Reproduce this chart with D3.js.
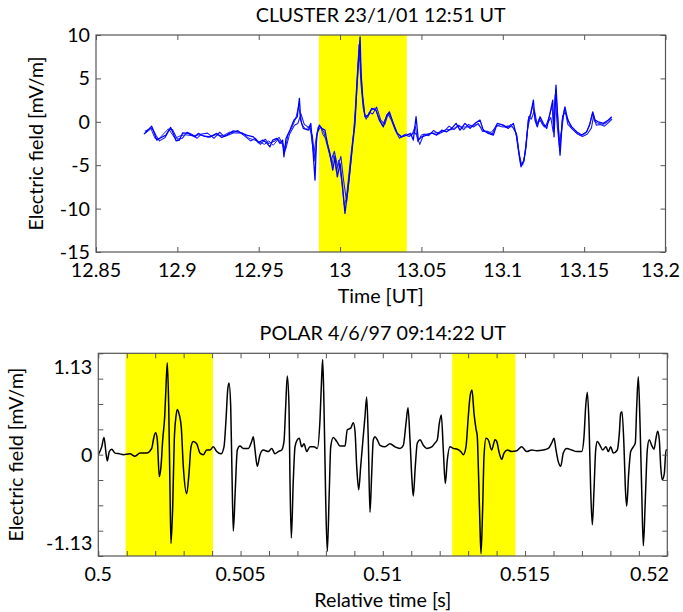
<!DOCTYPE html>
<html>
<head>
<meta charset="utf-8">
<script src="https://cdn.jsdelivr.net/npm/d3@7"></script>
<style>
  html, body { margin: 0; padding: 0; background: #fff; }
  svg { display: block; }
  text { font-family: Lato, "Open Sans", sans-serif; fill: #000; }
</style>
</head>
<body>
<svg id="chart" width="683" height="612"></svg>
<script>
// ---------- CLUSTER panel: electric field traces (mV/m) vs time (UT hours) ----------
const clusterTimeA = [12.8795,12.8842,12.8873,12.8898,12.8930,12.8959,12.8975,12.8992,12.9012,12.9033,12.9067,12.9108,12.9129,12.9159,12.9201,12.9242,12.9273,12.9303,12.9344,12.9385,12.9426,12.9467,12.9498,12.9525,12.9549,12.9569,12.9586,12.9611,12.9631,12.9647,12.9655,12.9668,12.9692,12.9717,12.9737,12.9750,12.9758,12.9774,12.9805,12.9820,12.9832,12.9846,12.9856,12.9872,12.9887,12.9907,12.9922,12.9938,12.9955,12.9969,12.9983,13.0000,13.0016,13.0030,13.0045,13.0061,13.0078,13.0092,13.0102,13.0112,13.0123,13.0129,13.0139,13.0153,13.0174,13.0194,13.0221,13.0241,13.0266,13.0287,13.0303,13.0327,13.0352,13.0379,13.0410,13.0434,13.0450,13.0467,13.0481,13.0502,13.0532,13.0563,13.0594,13.0625,13.0655,13.0686,13.0713,13.0737,13.0768,13.0799,13.0829,13.0860,13.0880,13.0911,13.0942,13.0966,13.1003,13.1034,13.1065,13.1086,13.1102,13.1112,13.1130,13.1143,13.1157,13.1172,13.1188,13.1198,13.1212,13.1229,13.1249,13.1270,13.1290,13.1307,13.1315,13.1327,13.1338,13.1352,13.1366,13.1382,13.1399,13.1424,13.1454,13.1485,13.1516,13.1536,13.1553,13.1567,13.1587,13.1618,13.1649,13.1670];
const clusterFieldA = [-1.42,-0.50,-2.11,-1.84,-1.53,-0.65,-1.34,-2.19,-2.11,-1.27,-1.34,-1.73,-1.34,-1.61,-1.73,-1.34,-1.80,-1.53,-1.04,-1.22,-1.53,-1.73,-2.42,-2.11,-2.42,-2.88,-2.11,-1.91,-2.49,-2.11,-4.03,-1.91,-0.95,0.20,0.58,2.70,0.20,-0.76,-0.96,-0.18,-2.88,-6.72,-1.73,-0.38,-0.76,-0.96,-2.49,-3.64,-5.56,-4.03,-6.34,-4.79,-7.49,-10.55,-8.25,-5.56,-2.49,-0.18,3.65,6.73,9.79,5.58,2.88,0.58,0.77,1.54,1.35,0.20,-0.58,0.77,1.15,-0.18,-1.34,-1.73,-1.53,-1.34,-2.11,0.58,-2.11,-1.73,-1.53,-1.27,-1.53,-0.96,-1.15,-0.76,-0.18,-0.96,-0.18,-0.76,-0.18,0.20,-0.96,-1.34,-1.53,-0.18,-0.38,-0.76,-0.18,-1.73,-4.03,-5.18,-4.41,-2.88,0.20,0.97,2.50,0.20,-0.58,0.58,-0.18,-0.76,0.97,2.50,-1.73,4.23,0.20,-3.84,0.20,1.73,0.20,-0.58,-1.15,-1.53,-1.15,-0.18,1.15,0.20,0.00,-0.18,0.20,0.58];

const clusterTimeB = [12.8800,12.8845,12.8870,12.8890,12.8925,12.8950,12.8970,12.9000,12.9030,12.9060,12.9095,12.9120,12.9150,12.9185,12.9225,12.9260,12.9290,12.9330,12.9370,12.9410,12.9450,12.9480,12.9510,12.9540,12.9560,12.9600,12.9625,12.9650,12.9665,12.9690,12.9720,12.9740,12.9760,12.9780,12.9810,12.9830,12.9845,12.9860,12.9880,12.9900,12.9925,12.9945,12.9965,12.9985,13.0005,13.0020,13.0040,13.0055,13.0070,13.0085,13.0098,13.0108,13.0118,13.0128,13.0142,13.0160,13.0180,13.0200,13.0225,13.0250,13.0275,13.0295,13.0315,13.0340,13.0365,13.0395,13.0425,13.0455,13.0470,13.0490,13.0515,13.0545,13.0575,13.0605,13.0640,13.0670,13.0700,13.0730,13.0760,13.0790,13.0820,13.0850,13.0875,13.0905,13.0935,13.0960,13.1000,13.1030,13.1060,13.1085,13.1100,13.1115,13.1130,13.1145,13.1160,13.1175,13.1195,13.1210,13.1230,13.1255,13.1275,13.1295,13.1310,13.1322,13.1335,13.1350,13.1368,13.1385,13.1400,13.1430,13.1460,13.1490,13.1520,13.1545,13.1558,13.1575,13.1600,13.1625,13.1650,13.1672];
const clusterFieldB = [-1.1,-0.7,-1.6,-2.2,-1.8,-0.9,-0.9,-2.0,-1.9,-1.2,-1.5,-1.9,-1.4,-1.3,-1.9,-1.2,-1.7,-1.4,-1.0,-1.6,-2.2,-1.9,-2.6,-2.0,-2.5,-2.2,-1.8,-2.6,-3.2,-1.4,-0.4,-0.2,0.9,-0.3,-0.7,-1.6,-4.5,-1.2,-0.6,-1.2,-3.0,-4.4,-3.4,-5.2,-4.0,-6.5,-9.2,-6.8,-3.8,-1.0,2.0,5.2,8.3,4.5,1.6,0.3,1.1,0.9,1.7,0.2,-0.3,0.9,0.2,-1.0,-1.9,-1.5,-1.7,-1.2,-1.5,-2.6,-1.4,-1.6,-1.0,-1.4,-1.1,-0.5,-0.9,-0.4,-0.9,-0.3,-0.6,-0.2,-1.1,-1.1,-1.4,-0.4,-0.6,-0.5,-0.6,-1.4,-3.6,-4.9,-4.6,-2.1,0.6,0.3,1.3,-0.2,0.2,-0.6,-0.2,0.5,-1.2,3.1,-0.5,-3.3,0.7,1.1,-0.3,-0.9,-1.4,-1.7,-1.4,-0.7,0.7,-0.4,-0.3,-0.5,-0.1,0.3];

// third spacecraft trace, as [time, field] pairs
const clusterTraceC = [
  [12.8805,-1.3],[12.8838,-0.8],[12.8862,-1.9],[12.8885,-2.0],[12.8915,-1.4],[12.8945,-0.8],[12.8985,-1.9],[12.9020,-1.6],
  [12.9050,-1.5],[12.9090,-1.6],[12.9140,-1.5],[12.9190,-1.8],[12.9235,-1.5],[12.9280,-1.6],[12.9320,-1.2],[12.9360,-1.3],
  [12.9400,-1.3],[12.9440,-1.9],[12.9475,-2.1],[12.9505,-2.3],[12.9535,-2.6],[12.9562,-2.2],[12.9590,-2.7],[12.9620,-2.0],
  [12.9645,-2.6],[12.9660,-3.5],[12.9680,-1.5],[12.9705,-0.6],[12.9728,0.4],[12.9745,1.8],[12.9765,-0.3],[12.9790,-0.9],
  [12.9815,-0.4],[12.9838,-3.8],[12.9852,-2.0],[12.9865,-0.6],[12.9880,-0.5],[12.9895,-1.5],[12.9915,-2.0],[12.9930,-3.2],
  [12.9950,-5.0],[12.9962,-3.8],[12.9978,-5.8],[12.9992,-4.4],[13.0010,-6.9],[13.0025,-9.6],[13.0038,-8.9],[13.0052,-6.4],
  [13.0068,-3.6],[13.0085,-0.9],[13.0097,2.6],[13.0107,5.9],[13.0117,8.9],[13.0126,6.8],[13.0135,3.5],[13.0150,0.9],
  [13.0170,0.5],[13.0190,1.3],[13.0215,1.6],[13.0235,0.6],[13.0260,-0.4],[13.0282,0.5],[13.0300,1.0],[13.0322,0.1],
  [13.0347,-1.2],[13.0375,-1.8],[13.0405,-1.4],[13.0440,-1.6],[13.0462,-0.5],[13.0478,-2.3],[13.0500,-1.5],[13.0540,-1.4],
  [13.0580,-1.3],[13.0615,-1.2],[13.0650,-0.9],[13.0690,-0.9],[13.0720,-0.5],[13.0750,-0.6],[13.0785,-0.6],[13.0815,-0.4],
  [13.0845,-0.3],[13.0870,-0.7],[13.0900,-1.2],[13.0930,-1.2],[13.0955,-0.6],[13.0990,-0.3],[13.1020,-0.7],[13.1050,-0.3],
  [13.1080,-1.2],[13.1095,-3.2],[13.1108,-4.6],[13.1122,-5.0],[13.1138,-3.5],[13.1152,-0.9],[13.1168,0.5],[13.1183,1.8],
  [13.1195,0.9],[13.1208,-0.3],[13.1225,0.4],[13.1245,-0.4],[13.1265,-0.5],[13.1285,0.6],[13.1303,1.8],[13.1312,-0.8],
  [13.1325,3.8],[13.1336,1.2],[13.1348,-2.2],[13.1362,-1.0],[13.1378,1.3],[13.1395,0.6],[13.1420,-0.7],[13.1450,-1.3],
  [13.1480,-1.6],[13.1510,-1.3],[13.1532,-0.5],[13.1550,0.9],[13.1565,0.0],[13.1590,-0.2],[13.1620,-0.3],[13.1645,0.0],
  [13.1668,0.4]
];

const clusterXTicks = [12.85, 12.9, 12.95, 13, 13.05, 13.1, 13.15, 13.2];
const clusterYTicks = [-15, -10, -5, 0, 5, 10];
const clusterBand = [12.987, 13.041];

// ---------- POLAR panel: electric field vs relative time (s) ----------
const polarTime = [0.500000,0.500120,0.500200,0.500271,0.500316,0.500387,0.500471,0.500587,0.500763,0.500879,0.501114,0.501290,0.501466,0.501701,0.501877,0.501958,0.502018,0.502074,0.502144,0.502204,0.502264,0.502334,0.502380,0.502425,0.502475,0.502520,0.502555,0.502615,0.502671,0.502731,0.502777,0.502847,0.502917,0.502988,0.503107,0.503188,0.503258,0.503339,0.503459,0.503575,0.503691,0.503810,0.503926,0.504042,0.504162,0.504313,0.504418,0.504489,0.504548,0.504594,0.504654,0.504699,0.504745,0.504815,0.504886,0.504981,0.505097,0.505272,0.505392,0.505448,0.505508,0.505589,0.505684,0.505800,0.505975,0.506095,0.506211,0.506327,0.506446,0.506527,0.506587,0.506643,0.506703,0.506738,0.506784,0.506854,0.506914,0.506995,0.507065,0.507149,0.507230,0.507325,0.507441,0.507582,0.507698,0.507793,0.507852,0.507887,0.507933,0.507993,0.508049,0.508120,0.508169,0.508260,0.508380,0.508496,0.508671,0.508752,0.508871,0.508963,0.509023,0.509083,0.509153,0.509223,0.509293,0.509374,0.509434,0.509490,0.509550,0.509610,0.509666,0.509726,0.509807,0.509902,0.510077,0.510253,0.510429,0.510605,0.510721,0.510815,0.510886,0.510956,0.511026,0.511072,0.511142,0.511213,0.511308,0.511424,0.511543,0.511719,0.511835,0.511916,0.511986,0.512056,0.512127,0.512197,0.512267,0.512362,0.512478,0.512619,0.512738,0.512830,0.512924,0.513005,0.513065,0.513135,0.513206,0.513276,0.513322,0.513357,0.513416,0.513452,0.513511,0.513557,0.513627,0.513708,0.513828,0.513944,0.514003,0.514095,0.514179,0.514260,0.514376,0.514531,0.514707,0.514882,0.515058,0.515234,0.515409,0.515641,0.515817,0.515937,0.516018,0.516088,0.516169,0.516253,0.516344,0.516464,0.516640,0.516815,0.516991,0.517072,0.517132,0.517188,0.517248,0.517307,0.517364,0.517424,0.517483,0.517540,0.517634,0.517729,0.517845,0.517926,0.518010,0.518102,0.518243,0.518313,0.518362,0.518408,0.518478,0.518524,0.518573,0.518643,0.518713,0.518805,0.518875,0.518925,0.518981,0.519041,0.519100,0.519157,0.519227,0.519297,0.519367,0.519452,0.519532,0.519603,0.519662,0.519719,0.519768,0.519824,0.519895,0.519954,0.520000];
const polarField = [0.00,0.10,0.22,0.02,-0.08,0.04,0.07,0.02,0.01,0.00,0.01,-0.02,0.02,0.02,0.08,0.23,0.28,0.19,-0.28,-0.15,0.19,0.49,0.87,1.18,0.62,-0.45,-1.14,-0.67,0.19,0.49,0.58,0.51,0.35,-0.15,-0.50,-0.24,0.10,0.17,0.14,0.02,0.00,0.06,0.06,0.10,0.04,0.01,0.10,0.45,0.83,0.92,0.62,-0.24,-0.98,-0.45,0.06,0.11,0.08,0.08,0.17,0.23,0.06,-0.15,0.00,0.06,0.04,0.08,0.01,0.04,0.06,0.17,0.62,1.01,0.62,-0.33,-1.07,-0.33,0.10,0.19,0.21,0.10,0.14,0.04,0.10,0.10,0.08,0.45,1.00,1.22,0.62,-0.58,-1.24,-0.45,0.10,0.22,0.17,0.11,0.11,0.32,0.34,0.41,0.30,-0.15,-0.45,-0.15,0.15,0.49,0.74,0.19,-0.74,-0.24,0.19,0.23,0.19,0.12,0.10,0.14,0.10,0.08,0.12,0.40,0.60,0.19,-0.33,-0.53,-0.15,0.15,0.19,0.12,0.08,0.10,0.15,0.19,0.40,0.51,0.06,-0.37,-0.07,0.10,0.08,0.07,0.04,0.00,0.10,0.49,0.74,0.83,0.53,0.33,0.23,-0.15,-0.92,-1.27,-0.67,-0.03,0.21,0.19,0.06,0.19,0.17,0.02,-0.06,0.02,0.06,0.04,0.05,0.10,0.04,0.06,0.05,0.06,0.08,0.15,0.21,0.06,-0.09,-0.15,0.02,0.08,0.06,0.04,0.04,0.23,0.62,0.80,0.40,-0.45,-0.90,-0.45,0.06,0.17,0.12,0.06,0.10,0.04,0.10,0.02,0.06,0.27,0.53,0.55,0.10,-0.41,-0.66,-0.24,0.04,0.10,0.15,0.62,1.00,0.40,-0.45,-1.17,-0.58,0.06,0.19,0.12,0.07,0.21,0.30,0.19,-0.15,-0.32,-0.24,0.06,0.06];

const polarXTicks = d3.range(0, 21).map(i => 0.5 + i * 0.001);
const polarXLabels = [0.5, 0.505, 0.51, 0.515, 0.52];
const polarYTicks = d3.range(-4, 5).map(i => i * 0.325);
const polarYLabels = [-1.13, 0, 1.13];
const polarBands = [[0.50096, 0.50403], [0.51244, 0.51466]];

// ---------- layout ----------
const svg = d3.select("#chart");
const FONT = 19.7;

function panel(cfg) {
  const g = svg.append("g");
  const x = d3.scaleLinear().domain(cfg.xDomain).range([cfg.left, cfg.right]);
  const y = d3.scaleLinear().domain(cfg.yDomain).range([cfg.bottom, cfg.top]);
  const clipId = cfg.id + "-clip";
  svg.append("clipPath").attr("id", clipId).append("rect")
    .attr("x", cfg.left).attr("y", cfg.top)
    .attr("width", cfg.right - cfg.left).attr("height", cfg.bottom - cfg.top);

  // highlighted intervals
  g.selectAll("rect.band").data(cfg.bands).join("rect")
    .attr("class", "band")
    .attr("x", d => x(d[0])).attr("width", d => x(d[1]) - x(d[0]))
    .attr("y", cfg.top).attr("height", cfg.bottom - cfg.top)
    .attr("fill", "#ffff00");

  // waveform lines
  const line = d3.line().x(d => x(d[0])).y(d => y(d[1])).curve(cfg.curve);
  const lines = g.append("g").attr("clip-path", `url(#${clipId})`);
  cfg.series.forEach(s => {
    lines.append("path")
      .datum(s.points)
      .attr("fill", "none")
      .attr("stroke", s.color)
      .attr("stroke-width", s.width)
      .attr("stroke-linejoin", "round")
      .attr("d", line);
  });

  // axes with inward ticks on all four sides
  const tickCol = "#555";
  const styleAxis = sel => {
    sel.select(".domain").remove();
    sel.selectAll(".tick line").attr("stroke", tickCol);
    sel.selectAll(".tick text").remove();
  };
  g.append("g").attr("transform", `translate(0,${cfg.bottom})`)
    .call(d3.axisBottom(x).tickValues(cfg.xTicks).tickSizeInner(-5).tickSizeOuter(0)).call(styleAxis);
  g.append("g").attr("transform", `translate(0,${cfg.top})`)
    .call(d3.axisTop(x).tickValues(cfg.xTicks).tickSizeInner(-5).tickSizeOuter(0)).call(styleAxis);
  g.append("g").attr("transform", `translate(${cfg.left},0)`)
    .call(d3.axisLeft(y).tickValues(cfg.yTicks).tickSizeInner(-5).tickSizeOuter(0)).call(styleAxis);
  g.append("g").attr("transform", `translate(${cfg.right},0)`)
    .call(d3.axisRight(y).tickValues(cfg.yTicks).tickSizeInner(-5).tickSizeOuter(0)).call(styleAxis);

  g.append("rect")
    .attr("x", cfg.left).attr("y", cfg.top)
    .attr("width", cfg.right - cfg.left).attr("height", cfg.bottom - cfg.top)
    .attr("fill", "none").attr("stroke", "#555").attr("stroke-width", 1.2);

  // tick labels (the last one is kept inside the page edge)
  const nX = cfg.xLabels.length;
  g.selectAll("text.xl").data(cfg.xLabels).join("text")
    .attr("class", "xl")
    .attr("x", (d, i) => i === nX - 1 ? Math.min(x(d) + 17, cfg.lastEdge) : x(d))
    .attr("y", cfg.bottom + 25)
    .attr("text-anchor", (d, i) => i === nX - 1 ? "end" : "middle")
    .attr("font-size", FONT)
    .text(cfg.xFormat);
  g.selectAll("text.yl").data(cfg.yLabels).join("text")
    .attr("class", "yl")
    .attr("x", cfg.left - 6).attr("y", d => y(d))
    .attr("dy", "0.36em")
    .attr("text-anchor", "end").attr("font-size", FONT)
    .text(cfg.yFormat);

  // titles
  g.append("text")
    .attr("x", (cfg.left + cfg.right) / 2).attr("y", cfg.top - 13)
    .attr("text-anchor", "middle").attr("font-size", FONT)
    .text(cfg.title);
  g.append("text")
    .attr("x", (cfg.left + cfg.right) / 2).attr("y", cfg.bottom + 51)
    .attr("text-anchor", "middle").attr("font-size", FONT)
    .text(cfg.xTitle);
  g.append("text")
    .attr("transform", `translate(${cfg.yTitleX},${(cfg.top + cfg.bottom) / 2}) rotate(-90)`)
    .attr("text-anchor", "middle").attr("font-size", FONT)
    .text("Electric field [mV/m]");
}

panel({
  id: "cluster",
  left: 96, right: 665.5, top: 35, bottom: 252,
  xDomain: [12.85, 13.2], yDomain: [-15, 10],
  xTicks: clusterXTicks, yTicks: clusterYTicks,
  xLabels: clusterXTicks, yLabels: clusterYTicks,
  xFormat: d => String(+d.toFixed(2)), yFormat: d => String(d),
  lastEdge: 680,
  bands: [clusterBand],
  curve: d3.curveLinear,
  series: [
    { points: d3.zip(clusterTimeB, clusterFieldB), color: "#1a1aff", width: 1.1 },
    { points: clusterTraceC, color: "#2020ff", width: 1.0 },
    { points: d3.zip(clusterTimeA, clusterFieldA), color: "#0000ff", width: 1.3 }
  ],
  title: "CLUSTER 23/1/01 12:51 UT",
  xTitle: "Time [UT]",
  yTitleX: 43
});

panel({
  id: "polar",
  left: 98.3, right: 667.3, top: 353.3, bottom: 556,
  xDomain: [0.5, 0.52], yDomain: [-1.3, 1.3],
  xTicks: polarXTicks, yTicks: polarYTicks,
  xLabels: polarXLabels, yLabels: polarYLabels,
  xFormat: d => String(+d.toFixed(3)), yFormat: d => d === 0 ? "0" : d.toFixed(2),
  lastEdge: 669,
  bands: polarBands,
  curve: d3.curveMonotoneX,
  series: [
    { points: d3.zip(polarTime, polarField), color: "#000", width: 1.5 }
  ],
  title: "POLAR 4/6/97 09:14:22 UT",
  xTitle: "Relative time [s]",
  yTitleX: 22.5
});
</script>
</body>
</html>
